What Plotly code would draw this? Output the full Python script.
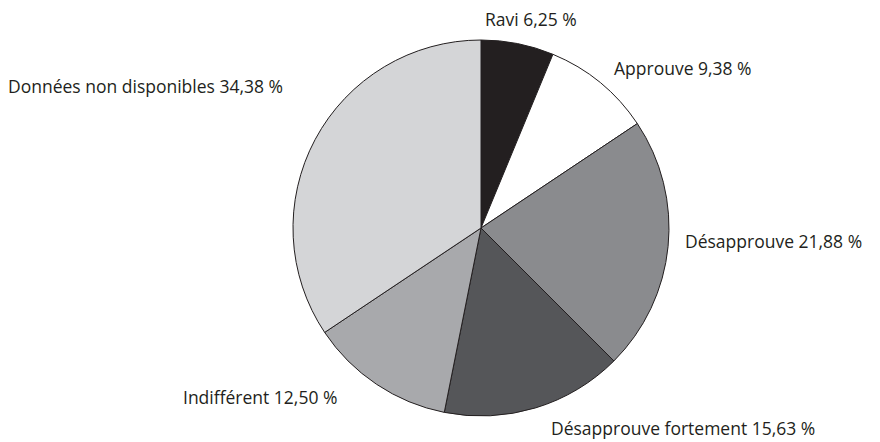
import plotly.graph_objects as go

W, H = 880, 442

categories = ["Ravi", "Approuve", "Désapprouve", "Désapprouve fortement",
              "Indifférent", "Données non disponibles"]
values = [6.25, 9.38, 21.88, 15.63, 12.50, 34.38]
value_labels = ["6,25 %", "9,38 %", "21,88 %", "15,63 %", "12,50 %", "34,38 %"]
colors = ["#231f20", "#ffffff", "#8a8b8e", "#555659", "#a8a9ac", "#d4d5d7"]

# label anchor positions in pixels (left edge, vertical centre)
label_px = [(483, 19), (612, 68), (683, 241), (549, 428), (181, 397), (6, 86)]

cx, cy, r = 481, 228, 188

fig = go.Figure(go.Pie(
    labels=categories,
    values=values,
    sort=False,
    direction="clockwise",
    rotation=0,
    marker=dict(colors=colors, line=dict(color="#231f20", width=1)),
    textinfo="none",
    hoverinfo="label+percent",
    showlegend=False,
    domain=dict(x=[(cx - r) / W, (cx + r) / W],
                y=[(H - cy - r) / H, (H - cy + r) / H]),
))

for cat, lab, (px, py) in zip(categories, value_labels, label_px):
    fig.add_annotation(
        x=px / W, y=1 - py / H, xref="paper", yref="paper",
        text=f"{cat} {lab}", showarrow=False,
        xanchor="left", yanchor="middle",
        font=dict(family="Open Sans", size=17.5, color="#231f20"),
    )

fig.update_layout(
    width=W, height=H,
    margin=dict(l=0, r=0, t=0, b=0),
    paper_bgcolor="white",
    plot_bgcolor="white",
)

fig.write_html("out.html")
